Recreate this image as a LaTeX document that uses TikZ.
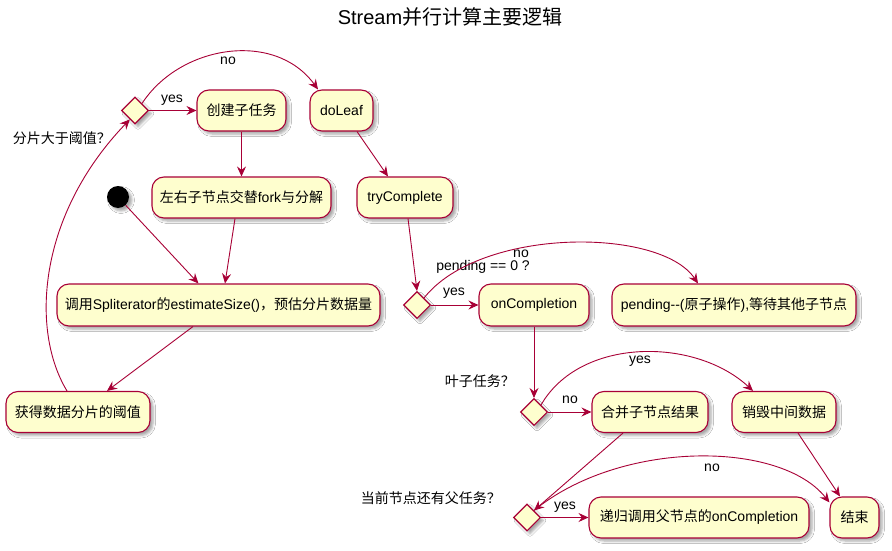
\documentclass[tikz,border=0pt]{standalone}
\usepackage{fontspec}
\setmainfont{Liberation Sans}
\newfontfamily\cjk{Noto Sans CJK SC}
\usetikzlibrary{arrows.meta,shapes.geometric,shadows.blur}
\definecolor{pborder}{HTML}{A80036}
\definecolor{pfill}{HTML}{FEFECE}
\tikzset{
  shad/.style={blur shadow={shadow xshift=3pt, shadow yshift=-3pt, shadow blur steps=4, shadow blur radius=2.5pt, shadow opacity=35}},
  act/.style={draw=pborder, fill=pfill, line width=1.1pt, rounded corners=12pt,
    minimum height=41pt, inner sep=0pt, font=\fontsize{14}{16}\selectfont, shad},
  dec/.style={diamond, draw=pborder, fill=pfill, line width=1.1pt,
    minimum width=27pt, minimum height=27pt, inner sep=0pt, shad},
  arr/.style={draw=pborder, line width=0.9pt, -{Stealth[length=10pt,width=9pt,inset=3.5pt]}},
  lbl/.style={font=\fontsize{14}{16}\selectfont, inner sep=0pt},
}
\begin{document}
\begin{tikzpicture}[x=1pt,y=-1pt]
\useasboundingbox[fill=white] (0,0) rectangle (892,551);

\node[font=\fontsize{20}{24}\selectfont] (title) at (450,17) {Stream{\cjk 并行计算主要逻辑}};

% nodes
\node[circle, fill=black, minimum size=22pt, inner sep=0pt, shad] (start) at (118,197) {};
\node[dec] (d1) at (135,110.5) {};
\node[act, minimum width=89pt] (create) at (241.5,110.5) {\cjk 创建子任务};
\node[act, minimum width=63pt] (doleaf) at (341.5,110.5) {doLeaf};
\node[act, minimum width=179pt] (fork) at (241.5,197.5) {{\cjk 左右子节点交替}fork{\cjk 与分解}};
\node[act, minimum width=96pt] (try) at (405,197.5) {tryComplete};
\node[act, minimum width=323pt, minimum height=42pt] (call) at (218.5,305) {{\cjk 调用}Spliterator{\cjk 的}estimateSize(){\cjk ，预估分片数据量}};
\node[act, minimum width=144pt] (thr) at (78,412) {\cjk 获得数据分片的阈值};
\node[dec] (d2) at (417,305) {};
\node[act, minimum width=110pt, minimum height=42pt] (onc) at (534,305) {onCompletion};
\node[act, minimum width=244pt, minimum height=42pt] (pend) at (734,305) {pending-{}-({\cjk 原子操作}),{\cjk 等待其他子节点}};
\node[dec] (d3) at (534,412) {};
\node[act, minimum width=116pt] (merge) at (650,412) {\cjk 合并子节点结果};
\node[act, minimum width=104pt] (destroy) at (784,412) {\cjk 销毁中间数据};
\node[dec] (d4) at (527,517.5) {};
\node[act, minimum width=220pt] (rec) at (699,517.5) {{\cjk 递归调用父节点的}onCompletion};
\node[act, minimum width=49pt] (end) at (854.5,517.5) {\cjk 结束};

% labels
\node[lbl] (l1) at (172,100) {yes};
\node[lbl] (l2) at (228,61) {no};
\node[lbl, anchor=east] (q1) at (111,138) {\cjk 分片大于阈值？};
\node[lbl, anchor=east] (q2) at (530,267) {pending == 0 ?};
\node[lbl] (l3) at (521,254) {no};
\node[lbl] (l4) at (454,293) {yes};
\node[lbl, anchor=east] (q3) at (515,381) {\cjk 叶子任务？};
\node[lbl] (l5) at (570,400) {no};
\node[lbl] (l6) at (640,361) {yes};
\node[lbl, anchor=east] (q4) at (501,498) {\cjk 当前节点还有父任务？};
\node[lbl] (l7) at (565,507) {yes};
\node[lbl] (l8) at (712,468) {no};

% connectors
\draw[arr] (start) -- (call);
\draw[arr] ([xshift=-6.5pt]fork.south) -- ([xshift=6.5pt]call.north);
\draw[arr] ([xshift=-25.5pt]call.south) -- ([xshift=29pt]thr.north);
\draw[arr] ([xshift=-11pt]thr.north) .. controls (30,330) and (38,215) .. (d1.240);
\draw[arr] (d1.east) -- (create.west);
\draw[arr] (d1.north east) .. controls (180,45) and (275,30) .. ([xshift=-23.5pt]doleaf.north);
\draw[arr] (create) -- (fork);
\draw[arr] ([xshift=15.5pt]doleaf.south) -- ([xshift=-17pt]try.north);
\draw[arr] ([xshift=3pt]try.south) -- (d2.north);
\draw[arr] (d2.east) -- (onc.west);
\draw[arr] (d2.north east) .. controls (480,227) and (660,227) .. ([xshift=-36pt]pend.north);
\draw[arr] (onc) -- (d3);
\draw[arr] (d3.east) -- (merge.west);
\draw[arr] (d3.north east) .. controls (580,337) and (695,337) .. ([xshift=-31pt]destroy.north);
\draw[arr] ([xshift=-27pt]merge.south) -- (d4.north east);
\draw[arr] ([xshift=14pt]destroy.south) -- ([xshift=-14.5pt]end.north);
\draw[arr] (d4.east) -- (rec.west);
\draw[arr] (d4.north east) .. controls (620,440) and (780,440) .. ([yshift=-6pt]end.north west);
\end{tikzpicture}
\end{document}
